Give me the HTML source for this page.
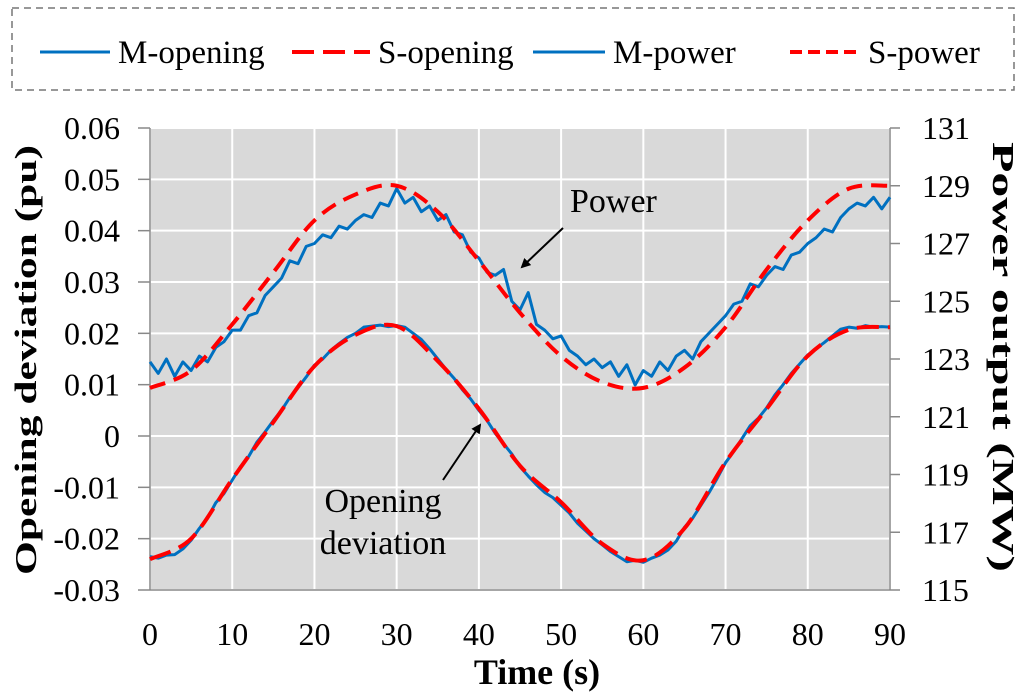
<!DOCTYPE html>
<html><head><meta charset="utf-8"><style>
html,body{margin:0;padding:0;background:#fff;}
svg{display:block;font-family:"Liberation Serif",serif;}
</style></head><body>
<svg id="chart" width="1024" height="696" viewBox="0 0 1024 696">
<g id="legend">
<rect x="12" y="8" width="1002" height="82" fill="#fff" stroke="#777" stroke-width="1.5" stroke-dasharray="7,5"/>
<g><line x1="40" y1="52" x2="110" y2="52" stroke="#0070c0" stroke-width="3"/><text x="118" y="63" font-size="33">M-opening</text></g>
<g><line x1="292" y1="52" x2="370" y2="52" stroke="#ff0000" stroke-width="4" stroke-dasharray="22,9"/><text x="378" y="63" font-size="33">S-opening</text></g>
<g><line x1="533" y1="52" x2="605" y2="52" stroke="#0070c0" stroke-width="3"/><text x="613" y="63" font-size="33">M-power</text></g>
<g><line x1="790" y1="52" x2="860" y2="52" stroke="#ff0000" stroke-width="4" stroke-dasharray="12,6"/><text x="868" y="63" font-size="33">S-power</text></g>
</g>
<g id="plot"></g>
</svg>
<script>
const xTicks=[0,10,20,30,40,50,60,70,80,90];
const leftTicks=[0.06,0.05,0.04,0.03,0.02,0.01,0,-0.01,-0.02,-0.03];
const rightTicks=[131,129,127,125,123,121,119,117,115];
const sTimes=[0,5,10,15,20,25,30,35,40,45,50,55,60,65,70,75,80,85,90];
const sOpening=[-0.0240,-0.0200,-0.0084,0.0027,0.0136,0.0197,0.0214,0.0146,0.0053,-0.0058,-0.0129,-0.0210,-0.0242,-0.0180,-0.0051,0.0053,0.0156,0.0207,0.0212];
const sPower=[122.0,122.6,124.2,126.0,127.8,128.7,129.0,128.1,126.4,124.6,123.1,122.2,122.0,122.7,124.1,126.1,127.8,128.9,129.0];
const mOpening=[-0.0235,-0.0238,-0.0232,-0.0231,-0.0220,-0.0203,-0.0180,-0.0160,-0.0130,-0.0112,-0.0086,-0.0060,-0.0040,-0.0012,0.0008,0.0030,0.0050,0.0075,0.0094,0.0115,0.0138,0.0150,0.0167,0.0180,0.0192,0.0200,0.0212,0.0214,0.0216,0.0213,0.0215,0.0212,0.0200,0.0188,0.0170,0.0150,0.0130,0.0112,0.0090,0.0072,0.0050,0.0030,0.0005,-0.0015,-0.0035,-0.0060,-0.0078,-0.0095,-0.0110,-0.0120,-0.0135,-0.0150,-0.0170,-0.0185,-0.0200,-0.0212,-0.0225,-0.0235,-0.0245,-0.0242,-0.0246,-0.0238,-0.0232,-0.0222,-0.0205,-0.0178,-0.0160,-0.0135,-0.0110,-0.0082,-0.0052,-0.0030,-0.0005,0.0020,0.0035,0.0055,0.0080,0.0100,0.0122,0.0140,0.0158,0.0170,0.0182,0.0195,0.0208,0.0212,0.0210,0.0215,0.0212,0.0213,0.0212];
const mPower=[122.9,122.5,123.0,122.4,122.9,122.6,123.1,122.9,123.4,123.6,124.0,124.0,124.5,124.6,125.2,125.5,125.8,126.4,126.3,126.9,127.0,127.3,127.2,127.6,127.5,127.8,128.0,127.9,128.4,128.3,128.9,128.4,128.6,128.1,128.3,127.8,128.0,127.4,127.3,126.7,126.5,126.0,125.9,126.1,125.0,124.7,125.3,124.2,124.0,123.7,123.8,123.3,123.1,122.8,123.0,122.7,122.9,122.4,122.8,122.1,122.6,122.4,122.9,122.6,123.1,123.3,123.0,123.6,123.9,124.2,124.5,124.9,125.0,125.6,125.5,125.9,126.2,126.1,126.6,126.7,127.0,127.2,127.5,127.4,127.9,128.2,128.4,128.3,128.6,128.2,128.6];

const X0=150,X1=890,YT=128,YB=590;
const xs=t=>X0+(t-0)/(90-0)*(X1-X0);
const yl=v=>YT+(0.06-v)/(0.09)*(YB-YT);
const yr=v=>YT+(131-v)/(16)*(YB-YT);
const NS="http://www.w3.org/2000/svg";
const plot=document.getElementById('plot');
function mk(tag,attrs,parent){const e=document.createElementNS(NS,tag);for(const k in attrs)e.setAttribute(k,attrs[k]);(parent||plot).appendChild(e);return e;}

const bg=mk('rect',{x:X0,y:YT,width:X1-X0,height:YB-YT,fill:'#d9d9d9'});


xTicks.forEach(t=>{
 const g=mk('line',{x1:xs(t),x2:xs(t),y1:YT,y2:YB,stroke:'#fff','stroke-width':2});
 
 
 const tx=mk('text',{x:xs(t),y:YB+55,'font-size':32,'text-anchor':'middle'});tx.textContent=t;
 
 
});
leftTicks.forEach(v=>{
 const g=mk('line',{x1:X0,x2:X1,y1:yl(v),y2:yl(v),stroke:'#fff','stroke-width':2});
 
 
 mk('line',{x1:X0-12,x2:X0,y1:yl(v),y2:yl(v),stroke:'#888','stroke-width':1.5});
 const tx=mk('text',{x:X0-30,y:yl(v)+11,'font-size':32,'text-anchor':'end'});tx.textContent=String(v);
 
 
});
rightTicks.forEach(v=>{
 mk('line',{x1:X1,x2:X1+10,y1:yr(v),y2:yr(v),stroke:'#888','stroke-width':1.5});
 const tx=mk('text',{x:X1+32,y:yr(v)+11,'font-size':32,'text-anchor':'start'});tx.textContent=v;
 
 
});
mk('line',{x1:X0,x2:X0,y1:YT,y2:YB,stroke:'#888','stroke-width':1.5});
mk('line',{x1:X1,x2:X1,y1:YT,y2:YB,stroke:'#888','stroke-width':1.5});
mk('line',{x1:X0,x2:X1,y1:YB,y2:YB,stroke:'#888','stroke-width':1.5});

function smoothPath(ts,vs,yf){
 const p=ts.map((t,i)=>[xs(t),yf(vs[i])]);
 let d='M'+p[0][0]+','+p[0][1];
 for(let i=0;i<p.length-1;i++){
  const p0=p[Math.max(i-1,0)],p1=p[i],p2=p[i+1],p3=p[Math.min(i+2,p.length-1)];
  const c1=[p1[0]+(p2[0]-p0[0])/6,p1[1]+(p2[1]-p0[1])/6];
  const c2=[p2[0]-(p3[0]-p1[0])/6,p2[1]-(p3[1]-p1[1])/6];
  d+=` C${c1[0]},${c1[1]} ${c2[0]},${c2[1]} ${p2[0]},${p2[1]}`;
 }
 return d;
}
function linePath(vs,yf){return vs.map((v,i)=>(i?'L':'M')+xs(i)+','+yf(v)).join(' ');}

const mo=mk('path',{d:linePath(mOpening,yl),fill:'none',stroke:'#0070c0','stroke-width':3,'stroke-linejoin':'round'});


const mp=mk('path',{d:linePath(mPower,yr),fill:'none',stroke:'#0070c0','stroke-width':3,'stroke-linejoin':'round'});


const so=mk('path',{d:smoothPath(sTimes,sOpening,yl),fill:'none',stroke:'#ff0000','stroke-width':4,'stroke-dasharray':'22,9'});


const sp=mk('path',{d:smoothPath(sTimes,sPower,yr),fill:'none',stroke:'#ff0000','stroke-width':4,'stroke-dasharray':'16,9'});



const defs=mk('defs',{});
const mkr=mk('marker',{id:'ah',markerWidth:10,markerHeight:10,refX:8,refY:5,orient:'auto',markerUnits:'userSpaceOnUse'},defs);
mk('path',{d:'M0,0 L10,5 L0,10 z',fill:'#000'},mkr);
const a1=mk('line',{x1:563,y1:228,x2:522,y2:267,stroke:'#000','stroke-width':2,'marker-end':'url(#ah)'});


const t1=mk('text',{x:570,y:212,'font-size':34});t1.textContent='Power';


const a2=mk('line',{x1:443,y1:480,x2:480,y2:425,stroke:'#000','stroke-width':2,'marker-end':'url(#ah)'});


const t2=mk('text',{x:383,y:512,'font-size':34,'text-anchor':'middle'});t2.textContent='Opening';


const t3=mk('text',{x:383,y:554,'font-size':34,'text-anchor':'middle'});t3.textContent='deviation';



const xt=mk('text',{x:537,y:684,'font-size':36,'font-weight':'bold','text-anchor':'middle'});xt.textContent='Time (s)';


const ylt=mk('text',{x:0,y:0,'font-size':31,'font-weight':'bold','text-anchor':'middle',textLength:430,lengthAdjust:'spacingAndGlyphs',transform:'translate(36,360) rotate(-90)'});ylt.textContent='Opening deviation (pu)';


const yrt=mk('text',{x:0,y:0,'font-size':31,'font-weight':'bold','text-anchor':'middle',textLength:430,lengthAdjust:'spacingAndGlyphs',transform:'translate(993,357) rotate(90)'});yrt.textContent='Power output (MW)';


</script>
</body></html>
